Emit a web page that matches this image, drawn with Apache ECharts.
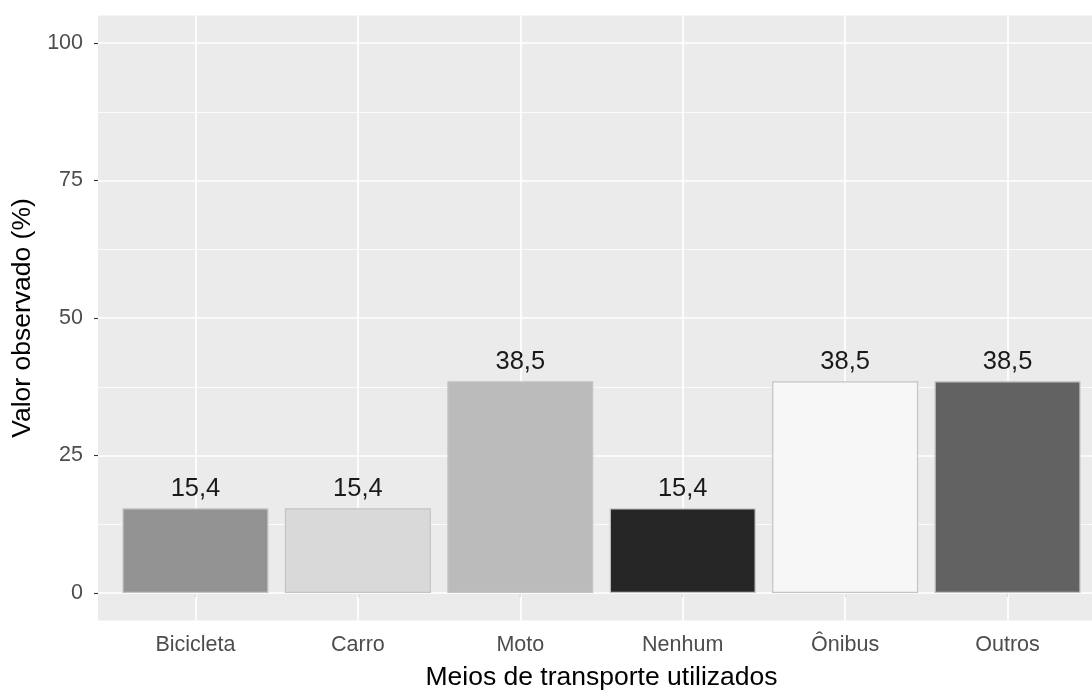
<!DOCTYPE html>
<html>
<head>
<meta charset="utf-8">
<script src="https://cdn.jsdelivr.net/npm/echarts@6/dist/echarts.min.js"></script>
<style>
html,body{margin:0;padding:0;background:#fff;overflow:hidden;}
#chart{width:1092px;height:691px;}
</style>
</head>
<body>
<div id="chart"></div>
<script>
const categories = ['Bicicleta', 'Carro', 'Moto', 'Nenhum', 'Ônibus', 'Outros'];
const values = [15.4, 15.4, 38.5, 15.4, 38.5, 38.5];
const barColors = ['#939393', '#D9D9D9', '#BBBBBB', '#262626', '#F7F7F7', '#626262'];
const yTicks = [0, 25, 50, 75, 100];
const yMinor = [12.5, 37.5, 62.5, 87.5];

const positions = categories.map((c, i) => i + 1);
const FONT = "'Liberation Sans', Arial, sans-serif";

const chart = echarts.init(document.getElementById('chart'), null, {renderer: 'canvas'});

const gridLines = [];
yTicks.forEach(v => gridLines.push({yAxis: v, lineStyle: {width: 1.7}}));
yMinor.forEach(v => gridLines.push({yAxis: v, lineStyle: {width: 0.8}}));
positions.forEach(v => gridLines.push({xAxis: v, lineStyle: {width: 1.7}}));

chart.setOption({
  animation: false,
  grid: {
    left: 98, top: 15.5, width: 1007, height: 605,
    outerBoundsMode: 'none', containLabel: false,
    show: true, backgroundColor: '#EBEBEB', borderWidth: 0
  },
  xAxis: {
    type: 'value', min: 0.4, max: 6.6,
    name: 'Meios de transporte utilizados',
    nameLocation: 'middle', nameGap: 44,
    nameTextStyle: {fontFamily: FONT, fontSize: 26.5, color: '#000'},
    axisLine: {show: false},
    splitLine: {show: false},
    axisTick: {show: true, length: 4, customValues: positions, lineStyle: {color: '#333', width: 1.1}},
    axisLabel: {
      customValues: positions,
      formatter: v => categories[Math.round(v) - 1] || '',
      fontFamily: FONT, fontSize: 21.5, color: '#4D4D4D', margin: 14
    }
  },
  yAxis: {
    type: 'value', min: -5, max: 105,
    name: 'Valor observado (%)',
    nameLocation: 'middle', nameGap: 52,
    nameTextStyle: {fontFamily: FONT, fontSize: 26.5, color: '#000'},
    axisLine: {show: false},
    splitLine: {show: false},
    axisTick: {show: true, length: 4, customValues: yTicks, lineStyle: {color: '#333', width: 1.1}},
    axisLabel: {
      customValues: yTicks,
      fontFamily: FONT, fontSize: 21.5, color: '#4D4D4D', margin: 15
    }
  },
  series: [
    {
      type: 'line', data: [], z: 1, silent: true,
      markLine: {
        z: 1, silent: true, symbol: ['none', 'none'],
        label: {show: false},
        lineStyle: {color: '#FFFFFF', type: 'solid'},
        emphasis: {disabled: true},
        data: gridLines
      }
    },
    {
      type: 'bar', z: 2, barWidth: 146,
      data: values.map((v, i) => ({
        value: [positions[i], v],
        itemStyle: {color: barColors[i], borderColor: '#C4C4C4', borderWidth: 1.2}
      })),
      label: {
        show: true, position: 'top', distance: 6,
        fontFamily: FONT, fontSize: 25.5, color: '#1A1A1A',
        formatter: p => String(p.value[1]).replace('.', ',')
      }
    }
  ]
});
</script>
</body>
</html>
